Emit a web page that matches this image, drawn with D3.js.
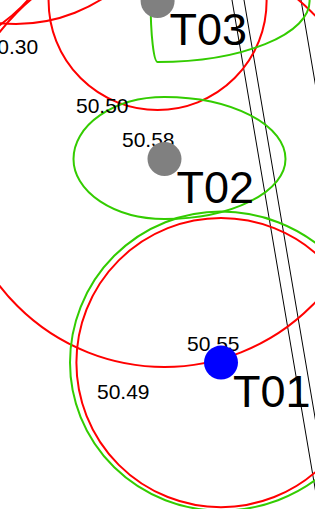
<!DOCTYPE html>
<html>
<head>
<meta charset="utf-8">
<script src="https://cdn.jsdelivr.net/npm/d3@7"></script>
<style>
  html, body { margin: 0; padding: 0; background: #fff; overflow: hidden; }
  svg { display: block; font-family: "Liberation Sans", Arial, sans-serif; }
</style>
</head>
<body>
<svg id="canvas"></svg>
<script>
// tree survey extract - positions in metres from the top-left corner of the sheet
var treeNames = ["T01", "T02", "T03", "T04", "T05"];
var treeX     = [11.05, 8.225, 7.88, 0.8, -5.0];
var treeY     = [18.13, 7.95, 0.05, -6.8, -5.75];
// root protection area radius (m)
var rpaRadius = [7.23, 10.4, 5.45, 8.0, 8.6];
// crown spread N / E / S / W (m)
var crownN = [7.55, 3.1, 3.0, 4.0, 4.0];
var crownE = [7.75, 6.05, 7.6, 4.0, 4.0];
var crownS = [7.4, 3.0, 3.05, 4.0, 4.0];
var crownW = [7.55, 4.55, 0.35, 4.0, 4.0];

var selectedTree = "T01";

// spot levels
var levelText = ["50.30", "50.50", "50.58", "50.55", "50.49"];
var levelX    = [-0.72, 3.8, 6.1, 9.35, 4.85];
var levelY    = [2.72, 5.66, 7.34, 17.57, 19.96];

// kerb lines (start / end)
var kerbX1 = [11.6, 12.2, 15.05];
var kerbY1 = [0, 0, 0];
var kerbX2 = [15.93, 16.53, 19.38];
var kerbY2 = [25.45, 25.45, 25.45];

var width = 315, height = 509;

var svg = d3.select("#canvas")
    .attr("width", width)
    .attr("height", height);

// 1 m = 20 px
var x = d3.scaleLinear().domain([0, 15.75]).range([0, width]);
var y = d3.scaleLinear().domain([0, 25.45]).range([0, height]);

var trees = treeNames.map(function(name, i) {
    return {name: name, x: treeX[i], y: treeY[i], rpa: rpaRadius[i],
            n: crownN[i], e: crownE[i], s: crownS[i], w: crownW[i]};
});
var levels = levelText.map(function(t, i) {
    return {text: t, x: levelX[i], y: levelY[i]};
});
var kerbs = kerbX1.map(function(v, i) {
    return {x1: v, y1: kerbY1[i], x2: kerbX2[i], y2: kerbY2[i]};
});

// trees whose stem falls on this sheet get a marker and a number
var onSheet = trees.filter(function(d) {
    return x(d.x) >= 0 && x(d.x) <= width && y(d.y) >= 0 && y(d.y) <= height;
});

function len(v) { return x(v) - x(0); }

// four quarter ellipses, one per quadrant
function crownPath(d) {
    var cx = x(d.x), cy = y(d.y);
    var n = len(d.n), e = len(d.e), s = len(d.s), w = len(d.w);
    return "M" + cx + "," + (cy - n) +
        "A" + e + "," + n + " 0 0 1 " + (cx + e) + "," + cy +
        "A" + e + "," + s + " 0 0 1 " + cx + "," + (cy + s) +
        "A" + w + "," + s + " 0 0 1 " + (cx - w) + "," + cy +
        "A" + w + "," + n + " 0 0 1 " + cx + "," + (cy - n) + "Z";
}

// kerbs
svg.append("g").selectAll("line")
    .data(kerbs)
    .enter().append("line")
    .attr("x1", function(d) { return x(d.x1); })
    .attr("y1", function(d) { return y(d.y1); })
    .attr("x2", function(d) { return x(d.x2); })
    .attr("y2", function(d) { return y(d.y2); })
    .attr("stroke", "#000")
    .attr("stroke-width", 1);

// RPA circles
svg.append("g").selectAll("circle")
    .data(trees)
    .enter().append("circle")
    .attr("cx", function(d) { return x(d.x); })
    .attr("cy", function(d) { return y(d.y); })
    .attr("r", function(d) { return len(d.rpa); })
    .attr("fill", "none")
    .attr("stroke", "#ff0000")
    .attr("stroke-width", 2);

// crowns
svg.append("g").selectAll("path")
    .data(trees)
    .enter().append("path")
    .attr("d", crownPath)
    .attr("fill", "none")
    .attr("stroke", "#33cc00")
    .attr("stroke-width", 2);

// spot levels
svg.append("g").selectAll("text")
    .data(levels)
    .enter().append("text")
    .attr("x", function(d) { return x(d.x); })
    .attr("y", function(d) { return y(d.y); })
    .attr("font-size", 21)
    .attr("fill", "#000")
    .text(function(d) { return d.text; });

// stems
svg.append("g").selectAll("circle")
    .data(onSheet)
    .enter().append("circle")
    .attr("cx", function(d) { return x(d.x); })
    .attr("cy", function(d) { return y(d.y); })
    .attr("r", 17)
    .attr("fill", function(d) { return d.name === selectedTree ? "#0000ff" : "#808080"; });

// tree numbers
svg.append("g").selectAll("text")
    .data(onSheet)
    .enter().append("text")
    .attr("x", function(d) { return x(d.x) + 12; })
    .attr("y", function(d) { return y(d.y) + 44; })
    .attr("font-size", 45)
    .attr("fill", "#000")
    .text(function(d) { return d.name; });
</script>
</body>
</html>
